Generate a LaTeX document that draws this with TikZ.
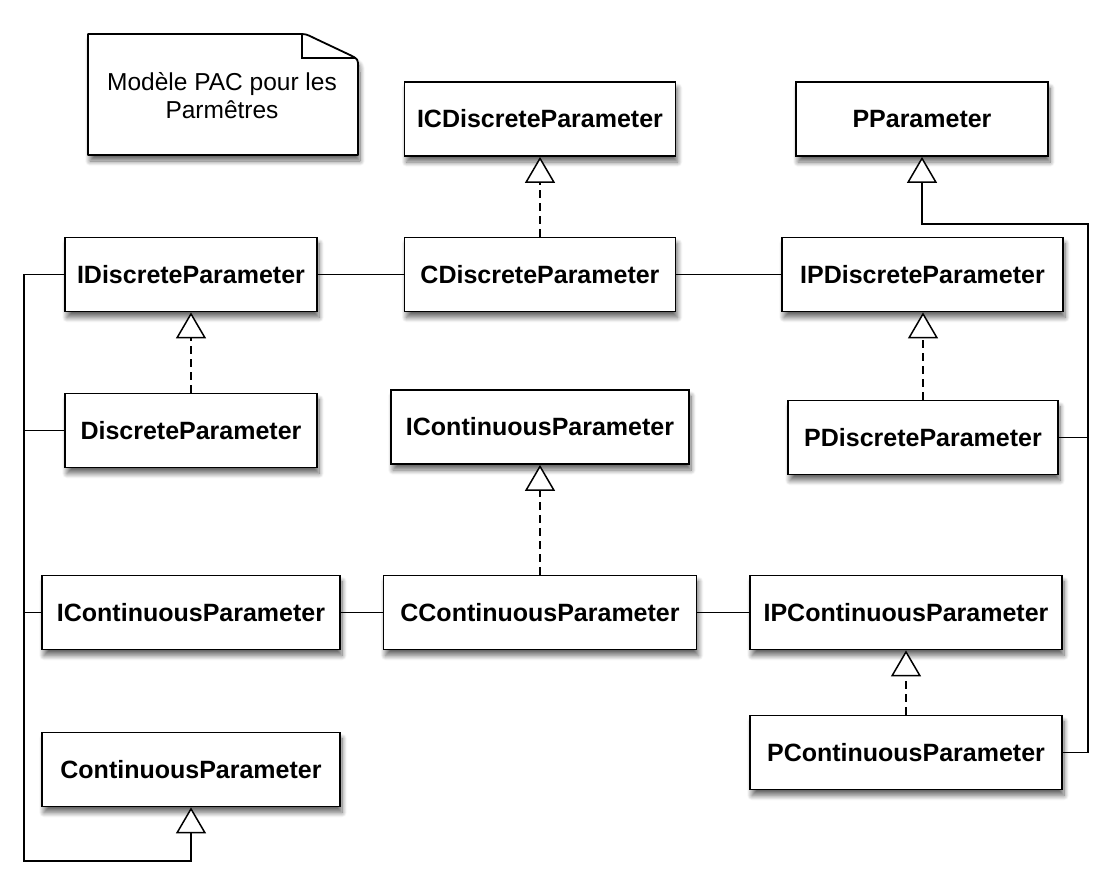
\documentclass[tikz,border=0pt]{standalone}
\usepackage{fontspec}
\setmainfont{Liberation Sans}
\usetikzlibrary{arrows.meta,shadows.blur}
\tikzset{
  softshadow/.style={blur shadow={shadow xshift=2pt, shadow yshift=-6pt, shadow blur radius=5pt, shadow blur steps=10, shadow opacity=60}},
  cls/.style={draw=black, fill=white, line width=1.8pt, inner sep=0pt,
    font=\fontsize{25}{28}\selectfont\bfseries, softshadow},
  conn/.style={line width=1.5pt, draw=black},
  realize/.style={conn, dash pattern=on 8pt off 5pt, -{Triangle[open, length=26pt, width=30pt, fill=white]}},
  generalize/.style={conn, -{Triangle[open, length=26pt, width=30pt, fill=white]}},
  assoc/.style={conn},
}
\begin{document}
\begin{tikzpicture}[x=1pt,y=-1pt]
\useasboundingbox (0,0) rectangle (1111,886);
% note
\path[fill=white, draw=black, line width=1.8pt, line join=round, softshadow]
  (88,34) -- (298,34) .. controls (306,34) .. (314,38) -- (350,55) .. controls (358,59) .. (358,67) -- (358,155) -- (88,155) -- cycle;
\draw[line width=1.5pt] (302,35) -- (302,58) -- (355,58);
\node[align=center, font=\fontsize{24.5}{28}\selectfont, inner sep=0pt] (note) at (222,96) {Modèle PAC pour les\\Parmêtres};
% classes
\node[cls, minimum width=271pt, minimum height=74pt] (icdp) at (540,119) {ICDiscreteParameter};
\node[cls, minimum width=252pt, minimum height=74pt] (pp) at (922,119) {PParameter};
\node[cls, minimum width=252pt, minimum height=74pt] (idp) at (191,274.5) {IDiscreteParameter};
\node[cls, minimum width=271pt, minimum height=74pt] (cdp) at (540,274.5) {CDiscreteParameter};
\node[cls, minimum width=281pt, minimum height=74pt] (ipdp) at (922.5,274.5) {IPDiscreteParameter};
\node[cls, minimum width=252pt, minimum height=74pt] (dp) at (191,430.5) {DiscreteParameter};
\node[cls, minimum width=298pt, minimum height=74pt] (icp) at (540,427) {IContinuousParameter};
\node[cls, minimum width=270pt, minimum height=74pt] (pdp) at (923,437.5) {PDiscreteParameter};
\node[cls, minimum width=298pt, minimum height=74pt] (icpl) at (191,612.5) {IContinuousParameter};
\node[cls, minimum width=313pt, minimum height=74pt] (ccp) at (540,612.5) {CContinuousParameter};
\node[cls, minimum width=312pt, minimum height=74pt] (ipcp) at (906,612.5) {IPContinuousParameter};
\node[cls, minimum width=298pt, minimum height=74pt] (cp) at (191,769.5) {ContinuousParameter};
\node[cls, minimum width=312pt, minimum height=74pt] (pcp) at (906,752.5) {PContinuousParameter};
% junction coordinates
\coordinate (rj) at (1088,224);
\coordinate (lj) at (24,861);
% associations
\draw[assoc] (idp.east) -- (cdp.west);
\draw[assoc] (cdp.east) -- (ipdp.west);
\draw[assoc] (icpl.east) -- (ccp.west);
\draw[assoc] (ccp.east) -- (ipcp.west);
% realizations
\draw[realize] (cdp.north) -- (icdp.south);
\draw[realize] (pdp.north) -- (ipdp.south -| pdp.north);
\draw[realize] (dp.north) -- (idp.south);
\draw[realize] (ccp.north) -- (icp.south);
\draw[realize] (pcp.north) -- (ipcp.south);
% generalizations
\draw[generalize] (pcp.east) -| (rj) -| (pp.south);
\draw[conn] (pdp.east) -- (pdp.east -| rj);
\draw[generalize] (idp.west) -| (lj) -| (cp.south);
\draw[conn] (dp.west) -- (dp.west -| lj);
\draw[conn] (icpl.west) -- (icpl.west -| lj);
\end{tikzpicture}
\end{document}
